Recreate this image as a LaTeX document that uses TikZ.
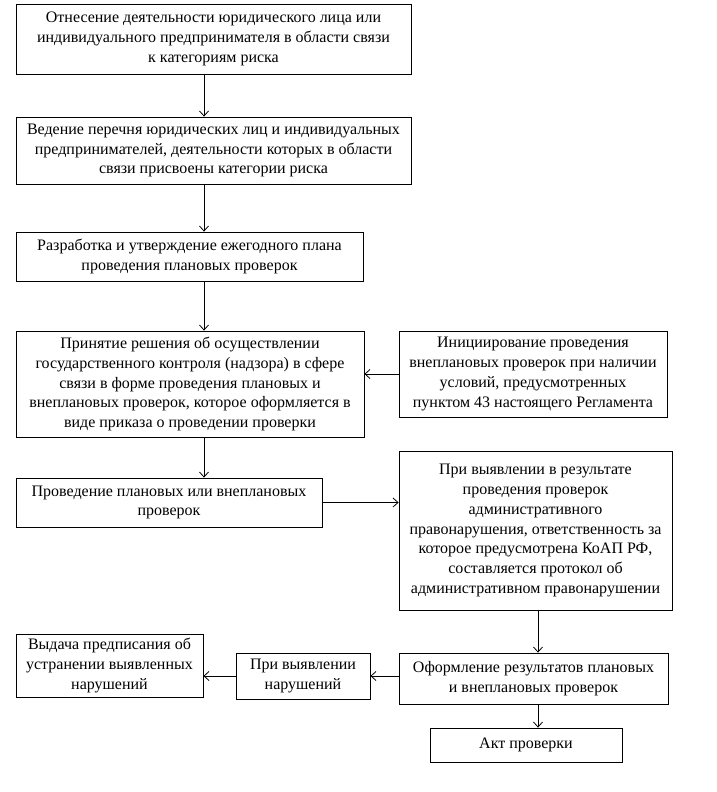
\documentclass[tikz,border=0pt]{standalone}
\usepackage{fontspec}
\setmainfont{Liberation Serif}
\usetikzlibrary{arrows.meta}
\tikzset{
  rk box/.style={draw=black, line width=0.8pt, align=center, inner sep=2pt,
    font=\fontsize{16}{19.8}\selectfont},
  rk arrow/.style={draw=black, line width=0.8pt,
    -{Straight Barb[length=5pt,width=9pt]}},
}
\begin{document}
\begin{tikzpicture}[x=1pt, y=-1pt]
  \useasboundingbox (0,0) rectangle (716,792);
  % ----- left column -----
  \coordinate (spine) at (204,0);
  \node[rk box, minimum width=395, minimum height=70] (assign) at (213.5,39)
    {Отнесение деятельности юридического лица или\\
     индивидуального предпринимателя в области связи\\
     к категориям риска};
  \node[rk box, minimum width=395, minimum height=67] (registry) at (213.5,150.5)
    {Ведение перечня юридических лиц и индивидуальных\\
     предпринимателей, деятельности которых в области\\
     связи присвоены категории риска};
  \node[rk box, minimum width=347, minimum height=49] (plan) at (189.5,256.5)
    {Разработка и утверждение ежегодного плана\\
     проведения плановых проверок};
  \node[rk box, minimum width=348, minimum height=106] (decision) at (190,384)
    {Принятие решения об осуществлении\\
     государственного контроля (надзора) в сфере\\
     связи в форме проведения плановых и\\
     внеплановых проверок, которое оформляется в\\
     виде приказа о проведении проверки};
  \node[rk box, minimum width=306, minimum height=49] (inspect) at (169,502.5)
    {Проведение плановых или внеплановых\\
     проверок};
  % ----- right column -----
  \node[rk box, minimum width=268, minimum height=86] (unplanned) at (533,374)
    {Инициирование проведения\\
     внеплановых проверок при наличии\\
     условий, предусмотренных\\
     пунктом 43 настоящего Регламента};
  \node[rk box, minimum width=273, minimum height=159] (protocol) at (535.5,530.5)
    {При выявлении в результате\\
     проведения проверок\\
     административного\\
     правонарушения, ответственность за\\
     которое предусмотрена КоАП РФ,\\
     составляется протокол об\\
     административном правонарушении};
  \node[rk box, minimum width=269, minimum height=51] (results) at (533.5,678.5)
    {Оформление результатов плановых\\
     и внеплановых проверок};
  \node[rk box, minimum width=192, minimum height=34] (act) at (526,745)
    {Акт проверки};
  % ----- bottom row -----
  \node[rk box, minimum width=134, minimum height=46] (found) at (303,676)
    {При выявлении\\
     нарушений};
  \node[rk box, minimum width=187, minimum height=63] (order) at (109.5,665.5)
    {Выдача предписания об\\
     устранении выявленных\\
     нарушений};
  % ----- connectors -----
  \draw[rk arrow] (assign.south -| spine) -- (registry.north -| spine);
  \draw[rk arrow] (registry.south -| spine) -- (plan.north -| spine);
  \draw[rk arrow] (plan.south -| spine) -- (decision.north -| spine);
  \draw[rk arrow] (decision.south -| spine) -- (inspect.north -| spine);
  \draw[rk arrow] (unplanned.west) -- (unplanned.west -| decision.east);
  \draw[rk arrow] (inspect.east) -- (inspect.east -| protocol.west);
  \coordinate (drop) at (538,0);
  \draw[rk arrow] (protocol.south -| drop) -- (results.north -| drop);
  \draw[rk arrow] (results.south -| drop) -- (act.north -| drop);
  \draw[rk arrow] (results.west |- found.east) -- (found.east);
  \draw[rk arrow] (found.west) -- (found.west -| order.east);
\end{tikzpicture}
\end{document}
